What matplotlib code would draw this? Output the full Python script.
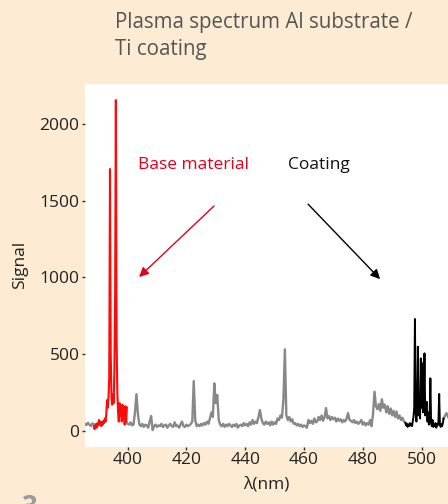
import numpy as np
import matplotlib
matplotlib.use("Agg")
import matplotlib.pyplot as plt

nan = np.nan

# ---------------- data ----------------
# gray full spectrum, 0.5 nm sampling from 385.5 nm
gray_start, gray_step = 385.5, 0.5
gray_sig = [
    45, 38, 52, 40, 30, 48, 42, 35, nan, nan,            # 385.5-390.0
    nan, nan, nan, nan, nan, nan, nan, nan, nan, nan,    # 390.5-395.0
    nan, nan, nan, nan, nan, nan, nan, nan, 60, 45,      # 395.5-400.0
    40, 55, 35, 40, 120, 239, 110, 40, 30, 45,           # 400.5-405.0
    25, 40, 35, 20, 60, 96, 5, 30, 40, 25,               # 405.5-410.0
    35, 30, 45, 25, 35, 40, 20, 35, 45, 30,              # 410.5-415.0
    25, 55, 30, 35, 20, 40, 60, 30, 25, 40,              # 415.5-420.0
    30, 35, 45, 60, 324, 70, 30, 40, 30, 45,             # 420.5-425.0
    35, 50, 40, 60, 45, 80, 120, 90, 309, 180,           # 425.5-430.0
    233, 70, 40, 30, 45, 25, 40, 30, 45, 35,             # 430.5-435.0
    25, 40, 30, 45, 20, 35, 40, 30, 50, 35,              # 435.5-440.0
    45, 30, 55, 40, 70, 45, 60, 50, 90, 135,             # 440.5-445.0
    80, 50, 40, 60, 45, 55, 35, 60, 40, 55,              # 445.5-450.0
    45, 80, 70, 100, 85, 200, 531, 100, 70, 90,          # 450.5-455.0
    60, 75, 45, 50, 35, 45, 30, 40, 25, 35,              # 455.5-460.0
    30, 20, 70, 50, 65, 45, 80, 55, 60, 90,              # 460.5-465.0
    70, 100, 65, 90, 148, 80, 95, 70, 90, 75,            # 465.5-470.0
    85, 60, 80, 65, 75, 55, 70, 60, 80, 115,             # 470.5-475.0
    70, 65, 55, 70, 50, 60, 45, 55, 70, 40,              # 475.5-480.0
    55, 35, 50, 40, 70, 30, 110, 255, 160, 140,          # 480.5-485.0
    175, 130, 205, 150, 170, 120, 160, 110, 145, 100,    # 485.5-490.0
    130, 90, 125, 80, 100, 70, 85, 60, 55, 45,           # 490.5-495.0
    nan, nan, nan, nan, nan, nan, nan, nan, nan, nan,    # 495.5-500.0
    nan, nan, nan, nan, nan, nan, nan, nan, nan, nan,    # 500.5-505.0
    nan, nan, nan, nan, 80, 100, 115, 90, 80, 95,        # 505.5-510.0
]

# base material (red), 0.25 nm sampling from 388.5 nm
red_start, red_step = 388.5, 0.25
red_sig = [
    30, 10, 25, 45, 20, 50, 35, 70, 40, 60,              # 388.5-390.75
    30, 55, 40, 65, 50, 80, 60, 110, 200, 150,           # 391.0-393.25
    220, 350, 1707, 500, 220, 170, 240, 180, 400, 900,   # 393.5-395.75
    2157, 600, 250, 120, 60, 180, 100, 150, 60, 170,     # 396.0-398.25
    80, 150, 40, 160, 60, 150,                           # 398.5-399.75
]

# coating (black), 0.25 nm sampling from 494.5 nm
blk_start, blk_step = 494.5, 0.25
blk_sig = [
    50, 35, 45, 25, 40, 30, 50, 35, 45, 30,              # 494.5-496.75
    60, 90, 150, 729, 120, 60, 150, 548, 100, 180,       # 497.0-499.25
    80, 472, 150, 440, 120, 180, 505, 100, 150, 189,     # 499.5-501.75
    60, 120, 40, 90, 342, 50, 30, 70, 25, 40,            # 502.0-504.25
    30, 50, 20, 45, 35, 60, 240, 40, 25, 45,             # 504.5-506.75
    30, 50, 80,                                          # 507.0-507.5
]

x_ticks = [400, 420, 440, 460, 480, 500]
y_ticks = [0, 500, 1000, 1500, 2000]

title = "Plasma spectrum Al substrate /\nTi coating"
label_base = "Base material"
label_coat = "Coating"

# ---------------- figure ----------------
FONT = "Open Sans"
plt.rcParams["font.family"] = [FONT, "DejaVu Sans"]

bg = "#fdebd3"
fig = plt.figure(figsize=(4.48, 5.04), dpi=100, facecolor=bg)
ax = fig.add_axes([85 / 448, (504 - 446.7) / 504, (448 - 85) / 448, (446.7 - 83.5) / 504])
ax.set_facecolor("white")

gx = gray_start + gray_step * np.arange(len(gray_sig))
rx = red_start + red_step * np.arange(len(red_sig))
bx = blk_start + blk_step * np.arange(len(blk_sig))

ax.plot(gx, gray_sig, color="#888888", lw=1.7, solid_joinstyle="round")
ax.plot(rx, red_sig, color="#ff0a0a", lw=1.5)
ax.plot(bx, blk_sig, color="#000000", lw=1.4)

ax.set_xlim(385.5, 509.0)
ax.set_ylim(-104, 2265)
ax.set_xticks(x_ticks)
ax.set_yticks(y_ticks)
for s in ax.spines.values():
    s.set_visible(False)
ax.tick_params(axis="both", length=2, width=1, color="#333333", labelsize=12.5,
               labelcolor="#222222", pad=2)

ax.set_ylabel("Signal", fontsize=12.5, color="#222222", labelpad=8)
ax.set_xlabel("λ(nm)", fontsize=12.5, color="#222222", labelpad=6)

ax.text(422.4, 1732, label_base, color="#e3001b", fontsize=12.5, ha="center", va="center")
ax.text(465.1, 1732, label_coat, color="#111111", fontsize=12.5, ha="center", va="center")

ax.annotate("", xy=(403.9, 1003), xytext=(429.4, 1466),
            arrowprops=dict(arrowstyle="-|>", color="#e3001b", lw=1.0, mutation_scale=14,
                            shrinkA=0, shrinkB=0))
ax.annotate("", xy=(485.9, 989), xytext=(461.4, 1478),
            arrowprops=dict(arrowstyle="-|>", color="#000000", lw=1.0, mutation_scale=14,
                            shrinkA=0, shrinkB=0))

fig.text(115 / 448, 1 - 12 / 504, title, fontsize=14.8, color="#555555", ha="left", va="top",
         linespacing=1.4)
fig.text(22 / 448, 1 - 494 / 504, "3", fontsize=20, color="#9a9a9a", fontweight="bold",
         ha="left", va="top")

fig.savefig("out.png", dpi=100, facecolor=bg)
